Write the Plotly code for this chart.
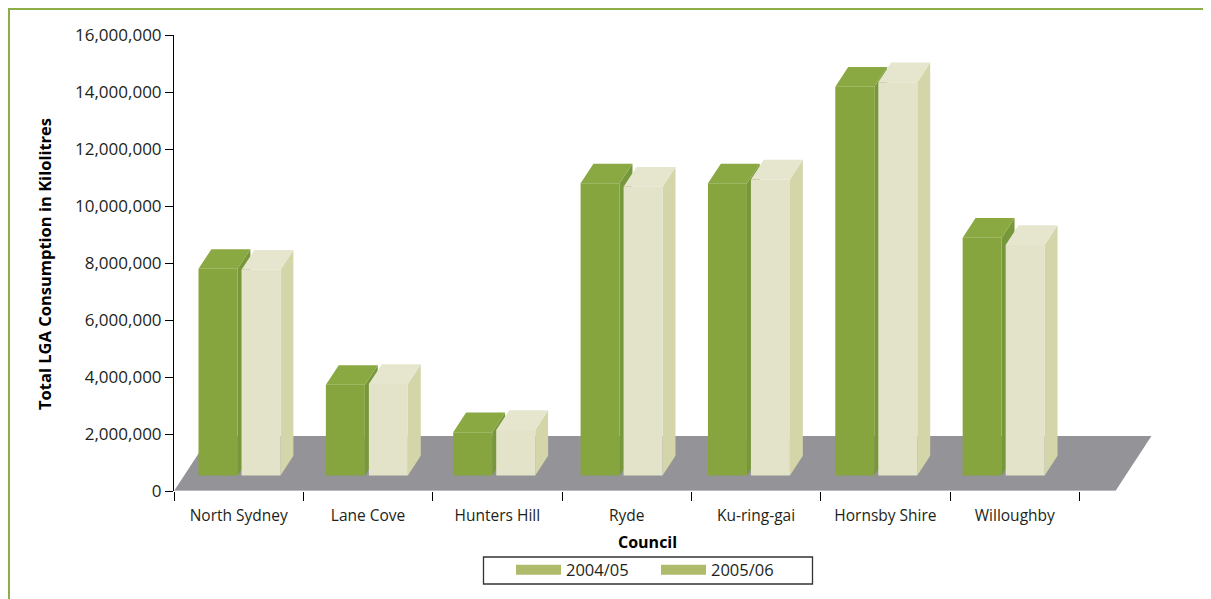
import plotly.graph_objects as go

# data
councils = ["North Sydney", "Lane Cove", "Hunters Hill", "Ryde",
            "Ku-ring-gai", "Hornsby Shire", "Willoughby"]
years = ["2004/05", "2005/06"]
use_0405 = [7250000, 3180000, 1520000, 10250000, 10250000, 13640000, 8340000]
use_0506 = [7220000, 3210000, 1600000, 10130000, 10390000, 13800000, 8090000]
y_ticks = [0, 2000000, 4000000, 6000000, 8000000, 10000000, 12000000, 14000000, 16000000]

# page geometry (px); the page body adds an 8px margin, so window px = figure px + 8
OFF = 8
W, H = 1211, 599
L, T = 174 - OFF, 35 - OFF
R = W - (1170 - OFF)
B = H - (491 - OFF)
XMIN, XMAX = -0.5, 7.2
YMAX = 16000000
pw, ph = W - L - R, H - T - B
px_x = pw / (XMAX - XMIN)
px_y = ph / YMAX

# oblique "3D" depth in data units
DX = 36 / px_x
DY = 55 / px_y
D0, D1 = 0.282, 0.64
# bars sit a little deeper than the axis, so their pitch is slightly smaller
PITCH = 0.9846
START = -0.389
BAR_W = 0.3015
GAP = 0.3324  # left edge of 2nd bar relative to 1st

FONT = "Open Sans"
TXT = "#231f20"

front_cols = ["#86a53e", "#e3e3c9"]
top_cols = ["#8aa942", "#e6e6ce"]
side_cols = ["#76973a", "#d4d6aa"]


def px2paper_x(p):
    # p given in window pixels
    return (p - OFF - L) / pw


def px2paper_y(p):
    return (H - B - (p - OFF)) / ph


def poly(xs, ys, color):
    return go.Scatter(x=xs, y=ys, fill="toself", fillcolor=color, mode="lines",
                      line=dict(width=0, color=color), hoverinfo="skip",
                      showlegend=False)


fig = go.Figure()

# floor
fx0, fx1 = XMIN, len(councils) - 0.5 + DX
fig.add_trace(poly([fx0, fx1, fx1 + DX, fx0 + DX, fx0],
                   [0, 0, DY, DY, 0], "#949398"))
fig.add_trace(go.Scatter(x=[fx0, fx1], y=[0, 0], mode="lines",
                         line=dict(color="#c9c9cb", width=1.5),
                         hoverinfo="skip", showlegend=False))

sx0, sy0 = D0 * DX, D0 * DY
sx1, sy1 = D1 * DX, D1 * DY

for s, vals in enumerate([use_0405, use_0506]):
    side_x, side_y, top_x, top_y, fr_x, fr_y = [], [], [], [], [], []
    for i, v in enumerate(vals):
        xl = START + PITCH * i + s * GAP
        xr = xl + BAR_W
        side_x += [xr + sx0, xr + sx1, xr + sx1, xr + sx0, xr + sx0, None]
        side_y += [sy0, sy1, v + sy1, v + sy0, sy0, None]
        top_x += [xl + sx0, xr + sx0, xr + sx1, xl + sx1, xl + sx0, None]
        top_y += [v + sy0, v + sy0, v + sy1, v + sy1, v + sy0, None]
        fr_x += [xl + sx0, xr + sx0, xr + sx0, xl + sx0, xl + sx0, None]
        fr_y += [sy0, sy0, v + sy0, v + sy0, sy0, None]
    fig.add_trace(poly(side_x, side_y, side_cols[s]))
    fig.add_trace(poly(top_x, top_y, top_cols[s]))
    fig.add_trace(poly(fr_x, fr_y, front_cols[s]))

# legend entries (swatches are the same olive in the original)
for name in years:
    fig.add_trace(go.Scatter(x=[None], y=[None], mode="lines", name=name,
                             line=dict(color="#afbb6b", width=13)))

fig.update_layout(
    width=W, height=H,
    margin=dict(l=L, r=R, t=T, b=B),
    plot_bgcolor="white", paper_bgcolor="white",
    font=dict(family=FONT, color=TXT, size=16),
    showlegend=True,
    legend=dict(orientation="h", x=px2paper_x(511), xanchor="left",
                y=px2paper_y(570), yanchor="middle",
                font=dict(size=16.5, family=FONT, color=TXT),
                itemwidth=45, entrywidth=85, bgcolor="rgba(0,0,0,0)"),
    xaxis=dict(range=[XMIN, XMAX], tickvals=list(range(len(councils))),
               ticktext=councils, ticks="outside", ticklen=10,
               tickcolor="rgba(0,0,0,0)", showgrid=False, zeroline=False,
               showline=False, tickfont=dict(size=15.5, color=TXT)),
    xaxis2=dict(range=[XMIN, XMAX], overlaying="x", anchor="y", side="bottom",
                tickvals=[k - 0.5 for k in range(len(councils) + 1)],
                ticks="outside", ticklen=9, tickcolor="black", tickwidth=1,
                showticklabels=False, showgrid=False, zeroline=False,
                showline=False),
    yaxis=dict(range=[0, YMAX], tickvals=y_ticks, tickformat=",",
               ticks="outside", ticklen=8, tickcolor="black",
               showline=True, linecolor="black", linewidth=1,
               showgrid=False, zeroline=False,
               tickfont=dict(size=17, color=TXT)),
)
# hidden trace to activate xaxis2
fig.add_trace(go.Scatter(x=[None], y=[None], xaxis="x2", showlegend=False))

fig.add_annotation(text="<b>Total LGA Consumption in Kilolitres</b>",
                   xref="paper", yref="paper", x=px2paper_x(44), y=px2paper_y(264),
                   xanchor="center", yanchor="middle",
                   textangle=-90, showarrow=False, font=dict(size=16.5, color="black"))
fig.add_annotation(text="<b>Council</b>", xref="paper", yref="paper",
                   x=px2paper_x(647), y=px2paper_y(542),
                   xanchor="center", yanchor="middle", showarrow=False,
                   font=dict(size=16, color="black"))

# legend frame and green page border
fig.add_shape(type="rect", xref="paper", yref="paper",
              x0=px2paper_x(483.5), x1=px2paper_x(812.5),
              y0=px2paper_y(557), y1=px2paper_y(584),
              line=dict(color="#333333", width=1.3))
fig.add_shape(type="line", xref="paper", yref="paper",
              x0=px2paper_x(5), x1=px2paper_x(W + 10),
              y0=px2paper_y(8.5), y1=px2paper_y(8.5),
              line=dict(color="#8cad48", width=3))
fig.add_shape(type="line", xref="paper", yref="paper",
              x0=px2paper_x(8.5), x1=px2paper_x(8.5),
              y0=px2paper_y(7), y1=px2paper_y(H + 10),
              line=dict(color="#8cad48", width=3))

fig.write_html("out.html")
